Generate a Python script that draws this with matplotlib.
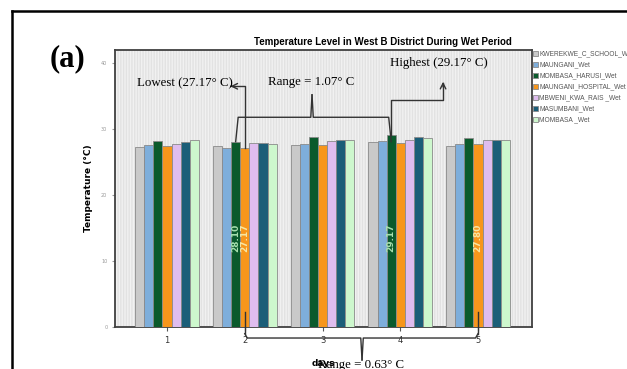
import numpy as np
import matplotlib
matplotlib.use("Agg")
import matplotlib.pyplot as plt
from matplotlib.lines import Line2D
from matplotlib.patches import Rectangle

# dati
days = [1, 2, 3, 4, 5]
stations = ["KWEREKWE_C_SCHOOL_Wet", "MAUNGANI_Wet", "MOMBASA_HARUSI_Wet",
            "MAUNGANI_HOSPITAL_Wet", "MBWENI_KWA_RAIS _Wet", "MASUMBANI_Wet",
            "MOMBASA _Wet"]
colors = ["#c9c9c9", "#7eaedb", "#0a5a2c", "#f7961c", "#dfbdef", "#1b5e78", "#cdf7cd"]

kwerekwe = [27.3, 27.5, 27.6, 28.1, 27.4]
maungani = [27.6, 27.1, 27.7, 28.2, 27.7]
mombasa_harusi = [28.2, 28.10, 28.8, 29.17, 28.6]
maungani_hosp = [27.4, 27.17, 27.6, 27.9, 27.80]
mbweni = [27.7, 27.9, 28.2, 28.4, 28.4]
masumbani = [28.1, 27.9, 28.3, 28.8, 28.3]
mombasa = [28.3, 27.8, 28.3, 28.7, 28.3]
series = [kwerekwe, maungani, mombasa_harusi, maungani_hosp, mbweni, masumbani, mombasa]

# etichette dentro le barre: (serie, giorno)
bar_labels = [(2, 1), (3, 1), (2, 3), (3, 4)]
label_colors = {2: "#a6dfae", 3: "#f6e6a4"}

# =======================
# Figura
# =======================
fig = plt.figure(figsize=(6.27, 3.69), dpi=100)
ax = fig.add_axes([0.1834, 0.1138, 0.6651, 0.7507])
ax.set_facecolor("#f1f1f1")
# trama a righe verticali dello sfondo
ax.add_patch(Rectangle((0, 0), 1, 1, transform=ax.transAxes, facecolor="none",
                       edgecolor="#e2e2e2", hatch="||||||", lw=0, zorder=0))

w = 0.117
x = np.array(days, dtype=float)
for i, vals in enumerate(series):
    ax.bar(x + (i - 3) * w, vals, width=w, color=colors[i], edgecolor="#8a8a8a",
           linewidth=0.6, label=stations[i], zorder=3)

for s, d in bar_labels:
    ax.text(x[d] + (s - 3) * w, 13.5, f"{series[s][d]:.2f}", rotation=90,
            ha="center", va="center", color=label_colors[s], fontsize=6.5,
            fontweight="bold", zorder=4)

ax.set_xlim(0.331, 5.694)
ax.set_ylim(0, 42)
ax.set_yticks([0, 10, 20, 30, 40])
ax.set_xticks(days)
ax.tick_params(axis="y", labelsize=3.5, labelcolor="#999999", length=2, color="#999999")
ax.tick_params(axis="x", labelsize=6, labelcolor="#333333", length=3, color="#555555")
for sp in ax.spines.values():
    sp.set_color("#404040")
    sp.set_linewidth(1.3)

ax.set_ylabel("Temperature (°C)", fontsize=6.5, fontweight="bold", labelpad=6)
ax.set_xlabel("days", fontsize=6.5, fontweight="bold", labelpad=10)

narrow = ["Liberation Sans Narrow", "Liberation Sans"]
fig.text(0.61, 0.885, "Temperature Level in West B District During Wet Period",
         ha="center", va="center", fontsize=7, fontweight="bold", family=narrow)

ax.legend(loc="upper left", bbox_to_anchor=(1.0, 1.0), frameon=False,
          handlelength=0.8, handleheight=0.8, handletextpad=0.2,
          labelspacing=0.6, borderaxespad=0.1, borderpad=0.0,
          prop={"size": 4.8, "family": narrow}, labelcolor="#555555")

# =======================
# Annotazioni
# =======================
serif = "Liberation Serif"
lc = "#333333"
kw = dict(color=lc, lw=1.0, clip_on=False, zorder=5)

# Lowest
xl = x[1]
ax.plot([xl, xl, 1.83], [maungani_hosp[1], 36.5, 36.5], **kw)
ax.annotate("", xy=(1.78, 36.5), xytext=(1.86, 36.5),
            arrowprops=dict(arrowstyle="->", color=lc, lw=1.0), annotation_clip=False)
ax.text(0.62, 37.0, "Lowest (27.17° C)", family=serif, fontsize=9.3, va="center", ha="left")

# Highest
xh = x[3] - w
ax.plot([xh, xh, 4.55, 4.55], [mombasa_harusi[3], 34.4, 34.4, 37.0], **kw)
ax.annotate("", xy=(4.55, 37.6), xytext=(4.55, 36.0),
            arrowprops=dict(arrowstyle="->", color=lc, lw=1.0), annotation_clip=False)
ax.text(4.49, 40.0, "Highest (29.17° C)", family=serif, fontsize=9.3, va="center", ha="center")


def brace(ax, x0, x1, y, tip_x, tip_y, ends_y):
    """Parentesi graffa orizzontale con estremi verso le barre."""
    d = 0.08
    ax.plot([x0, x0 + d * 0.4, tip_x - d, tip_x - d * 0.2, tip_x],
            [ends_y, y, y, y, tip_y], **kw)
    ax.plot([tip_x, tip_x + d * 0.2, tip_x + d, x1 - d * 0.4, x1],
            [tip_y, y, y, y, ends_y], **kw)


# Range sopra
brace(ax, x[1] - w, x[3] - w, 31.8, 2.865, 35.2, mombasa_harusi[1])
ax.text(2.85, 37.1, "Range = 1.07° C", family=serif, fontsize=9.3, va="center", ha="center")

# Range sotto
ax.plot([x[1], x[1]], [2.3, -1.0], **kw)
ax.plot([x[4], x[4]], [2.3, -1.0], **kw)
brace(ax, x[1], x[4], -1.67, 3.508, -5.0, -1.0)
ax.text(3.5, -5.7, "Range = 0.63° C", family=serif, fontsize=9.3, va="center", ha="center")

# (a) e cornice
fig.text(0.107, 0.84, "(a)", family=serif, fontsize=22, fontweight="bold",
         ha="center", va="center")
fig.add_artist(Line2D([0.019, 1.0], [0.97, 0.97], transform=fig.transFigure,
                      color="black", lw=1.8))
fig.add_artist(Line2D([0.019, 0.019], [0.0, 0.97], transform=fig.transFigure,
                      color="black", lw=1.8))

fig.savefig("out.png", dpi=100)
